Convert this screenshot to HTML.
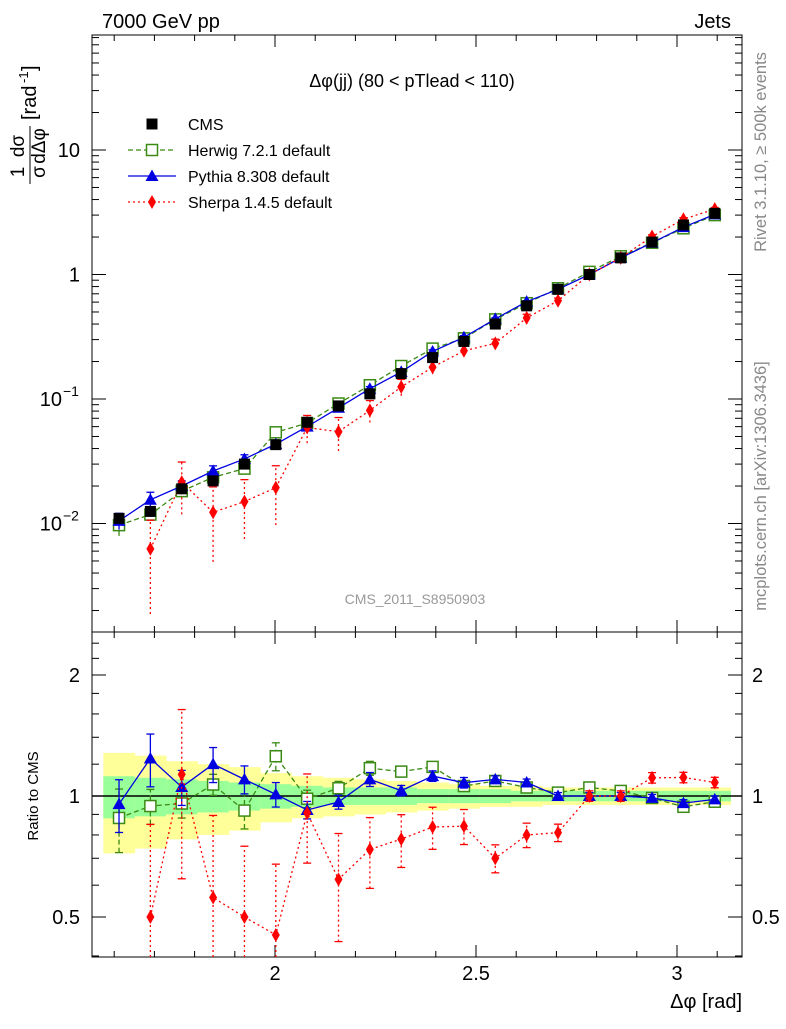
<!DOCTYPE html>
<html><head><meta charset="utf-8"><style>
body{margin:0;background:#fff}
svg{font-family:"Liberation Sans",sans-serif}
</style></head><body>
<svg id="c" width="786" height="1024" xmlns="http://www.w3.org/2000/svg"></svg>
<script>
const xCenters=[1.612,1.690,1.768,1.846,1.924,2.002,2.080,2.158,2.236,2.314,2.392,2.470,2.548,2.626,2.704,2.782,2.860,2.938,3.016,3.094];
const cms=[0.011,0.0125,0.019,0.022,0.030,0.043,0.065,0.088,0.11,0.16,0.215,0.29,0.40,0.56,0.76,1.0,1.36,1.82,2.5,3.1];
const herwig=[0.0097,0.0118,0.0182,0.0235,0.0276,0.054,0.064,0.092,0.129,0.184,0.254,0.307,0.436,0.588,0.775,1.05,1.40,1.80,2.35,3.0];
const pythia=[0.0105,0.0155,0.020,0.0264,0.033,0.0434,0.060,0.085,0.121,0.165,0.241,0.313,0.44,0.605,0.76,1.0,1.36,1.80,2.4,3.04];
const sherpa=[null,0.00625,0.0215,0.0123,0.015,0.0194,0.059,0.0546,0.081,0.125,0.18,0.244,0.28,0.448,0.616,1.0,1.36,2.02,2.78,3.35];
const herwigErr=[0.18,0.1,0.08,0.06,0.1,0.08,0.05,0.04,0.04,0.03,0.03,0.03,0.02,0.02,0.02,0.02,0.02,0.02,0.02,0.02];
const pythiaErr=[0.15,0.15,0.1,0.1,0.08,0.07,0.05,0.04,0.04,0.03,0.03,0.03,0.02,0.02,0.02,0.02,0.02,0.02,0.02,0.02];
const sherpaErr=[0,0.7,0.45,0.6,0.5,0.5,0.25,0.3,0.2,0.15,0.12,0.1,0.08,0.07,0.05,0.03,0.03,0.03,0.03,0.03];
const yellowBand=[0.28,0.26,0.22,0.2,0.18,0.14,0.12,0.11,0.1,0.09,0.08,0.07,0.06,0.06,0.05,0.05,0.05,0.05,0.05,0.05];
const greenBand=[0.12,0.11,0.1,0.09,0.08,0.07,0.06,0.05,0.05,0.05,0.04,0.04,0.04,0.03,0.03,0.03,0.03,0.03,0.03,0.03];
const binW=0.078;

const S=document.getElementById('c');const NS='http://www.w3.org/2000/svg';
function el(t,a,txt){const e=document.createElementNS(NS,t);for(const k in a)e.setAttribute(k,a[k]);if(txt!==undefined)e.textContent=txt;S.appendChild(e);return e;}
const L=92,R=742,T=35,MB=632,RB=957;
const X=x=>275+(x-2)*402;
const Y=v=>150-(Math.log10(v)-1)*124.5;
const RY=r=>796-Math.log2(r)*121;
xCenters.forEach((x,i)=>{
 let b=el('rect',{x:X(x-binW/2),y:RY(1+yellowBand[i]),width:X(x+binW/2)-X(x-binW/2)+0.5,height:RY(1-yellowBand[i])-RY(1+yellowBand[i]),fill:'#ffff99'});
 
 let g=el('rect',{x:X(x-binW/2),y:RY(1+greenBand[i]),width:X(x+binW/2)-X(x-binW/2)+0.5,height:RY(1-greenBand[i])-RY(1+greenBand[i]),fill:'#99ff99'});
 
});
el('line',{x1:L,x2:R,y1:RY(1),y2:RY(1),stroke:'#000','stroke-width':1.5});
el('rect',{x:L,y:T,width:R-L,height:MB-T,fill:'none',stroke:'#000'});
el('rect',{x:L,y:MB,width:R-L,height:RB-MB,fill:'none',stroke:'#000'});
for(let k=16;k<=31;k++){const x=k/10;const px=X(x);if(px<L||px>R)continue;const maj=(k%5==0);const len=maj?12:6;
 [[T,1],[MB,-1],[MB,1],[RB,-1]].forEach(([y,d])=>el('line',{x1:px,x2:px,y1:y,y2:y+d*len,stroke:'#000'}));
 if(maj){let t=el('text',{x:px,y:980,'font-size':20,'text-anchor':'middle'},String(x));}}
for(let d=-3;d<=1;d++)for(let m=1;m<=9;m++){const v=m*Math.pow(10,d);const py=Y(v);if(py<T||py>MB)continue;const len=m==1?14:7;
 el('line',{x1:L,x2:L+len,y1:py,y2:py,stroke:'#000'});el('line',{x1:R,x2:R-len,y1:py,y2:py,stroke:'#000'});}
[['10',10],['1',1]].forEach(([s,v])=>{let t=el('text',{x:80,y:Y(v)+7,'font-size':20,'text-anchor':'end'},s);});
[[-1,0.1],[-2,0.01]].forEach(([e,v])=>{let t=el('text',{x:62,y:Y(v)+7,'font-size':20,'text-anchor':'end'},'10');
 el('text',{x:63,y:Y(v)-3,'font-size':14},e==-1?'−1':'−2');});
[0.4,0.5,0.6,0.7,0.8,0.9,1,1.2,1.4,1.6,1.8,2,2.2,2.4].forEach(r=>{const py=RY(r);if(py<MB||py>RB)return;const len=(r==0.5||r==1||r==2)?14:7;
 el('line',{x1:L,x2:L+len,y1:py,y2:py,stroke:'#000'});el('line',{x1:R,x2:R-len,y1:py,y2:py,stroke:'#000'});});
[['2',2],['1',1],['0.5',0.5]].forEach(([s,v])=>{el('text',{x:80,y:RY(v)+7,'font-size':20,'text-anchor':'end'},s);el('text',{x:752,y:RY(v)+7,'font-size':20},s);});
function marker(type,px,py,col){
 if(type=='sq')return el('rect',{x:px-5.5,y:py-5.5,width:11,height:11,fill:col});
 if(type=='osq')return el('rect',{x:px-5.5,y:py-5.5,width:11,height:11,fill:'#fff',stroke:col,'stroke-width':1.5});
 if(type=='tri')return el('polygon',{points:`${px},${py-6.5} ${px-6.5},${py+5} ${px+6.5},${py+5}`,fill:col});
 return el('polygon',{points:`${px},${py-7} ${px-4},${py} ${px},${py+7} ${px+4},${py}`,fill:col});}
function series(vals,errs,col,dash,type,name,ratio){
 const pts=[],rpts=[];
 vals.forEach((v,i)=>{if(v==null)return;pts.push([X(xCenters[i]),Y(v)]);rpts.push([X(xCenters[i]),RY(v/cms[i])]);});
 let p=el('polyline',{points:pts.map(p=>p.join(',')).join(' '),fill:'none',stroke:col,'stroke-width':1.3,'stroke-dasharray':dash});
 let q=el('polyline',{points:rpts.map(p=>p.join(',')).join(' '),fill:'none',stroke:col,'stroke-width':1.3,'stroke-dasharray':dash});
 vals.forEach((v,i)=>{if(v==null)return;const px=X(xCenters[i]);const e=errs[i];const r=v/cms[i];
  if(e>0){const lo=Math.max(v*(1-e),1e-4);
   el('line',{x1:px,x2:px,y1:Math.min(Y(lo),MB),y2:Y(v*(1+e)),stroke:col,'stroke-width':1.3,'stroke-dasharray':dash||''});
   el('line',{x1:px,x2:px,y1:Math.min(RY(Math.max(r*(1-e),0.3)),RB),y2:Math.max(RY(r*(1+e)),MB),stroke:col,'stroke-width':1.3,'stroke-dasharray':dash||''});
   [Y(v*(1+e)),RY(r*(1+e)),RY(r*(1-e))].forEach(yy=>{if(yy>T&&yy<RB)el('line',{x1:px-4,x2:px+4,y1:yy,y2:yy,stroke:col,'stroke-width':1.3});});}
  let m=marker(type,px,Y(v),col);
  if(ratio){let m2=marker(type,px,RY(r),col);}
 });}
series(herwig,herwigErr,'#3a8a14','5,3','osq','herwig',true);
series(pythia,pythiaErr,'#0000e0','','tri','pythia',true);
series(sherpa,sherpaErr,'#ff0000','2,3','dia','sherpa',true);
cms.forEach((v,i)=>{let m=marker('sq',X(xCenters[i]),Y(v),'#000');});
const leg=[['CMS','#000','sq',null],['Herwig 7.2.1 default','#3a8a14','osq','5,3'],['Pythia 8.308 default','#0000e0','tri',''],['Sherpa 1.4.5 default','#ff0000','dia','2,3']];
leg.forEach((l,i)=>{const y=124+i*26;
 if(l[3]!==null)el('line',{x1:128,x2:176,y1:y,y2:y,stroke:l[1],'stroke-width':1.3,'stroke-dasharray':l[3]});
 let m=marker(l[2],152,y,l[1]);
 let t=el('text',{x:188,y:y+6,'font-size':16},l[0]);});
function tx(s,a,name){let t=el('text',a,s);return t;}
tx('7000 GeV pp',{x:102,y:28,'font-size':20},'energy-label');
tx('Jets',{x:731,y:28,'font-size':20,'text-anchor':'end'},'process-label');
tx('Δφ(jj) (80 < pTlead <  110)',{x:412,y:87,'font-size':18,'text-anchor':'middle'},'plot-title');
tx('CMS_2011_S8950903',{x:415,y:604,'font-size':14,'text-anchor':'middle',fill:'#999'},'analysis-id');
tx('Rivet 3.1.10, ≥ 500k events',{x:0,y:0,'font-size':16.5,fill:'#888','text-anchor':'middle',transform:'translate(766,152) rotate(-90)'},'rivet-label');
tx('mcplots.cern.ch [arXiv:1306.3436]',{x:0,y:0,'font-size':16.5,fill:'#888','text-anchor':'middle',transform:'translate(766,486) rotate(-90)'},'mcplots-label');
tx('Ratio to CMS',{x:0,y:0,'font-size':15,'text-anchor':'middle',transform:'translate(38,796) rotate(-90)'},'ratio-y-title');
tx('Δφ [rad]',{x:742,y:1008,'font-size':20,'text-anchor':'end'},'x-axis-title');
const yt=el('g',{transform:'translate(30,100) rotate(-90)'});
function gt(s,a){const e=document.createElementNS(NS,'text');for(const k in a)e.setAttribute(k,a[k]);e.textContent=s;yt.appendChild(e);}
gt('1',{x:-72,y:-6,'font-size':19,'text-anchor':'middle'});gt('σ',{x:-72,y:15,'font-size':19,'text-anchor':'middle'});
gt('dσ',{x:-46,y:-6,'font-size':19,'text-anchor':'middle'});gt('dΔφ',{x:-46,y:15,'font-size':19,'text-anchor':'middle'});
const ln=document.createElementNS(NS,'line');ln.setAttribute('x1',-84);ln.setAttribute('x2',-26);ln.setAttribute('y1',0);ln.setAttribute('y2',0);ln.setAttribute('stroke','#000');yt.appendChild(ln);
gt('[rad',{x:-20,y:6,'font-size':20});gt('-1',{x:17,y:-2,'font-size':13});gt(']',{x:29,y:6,'font-size':20});
</script>
</body></html>
